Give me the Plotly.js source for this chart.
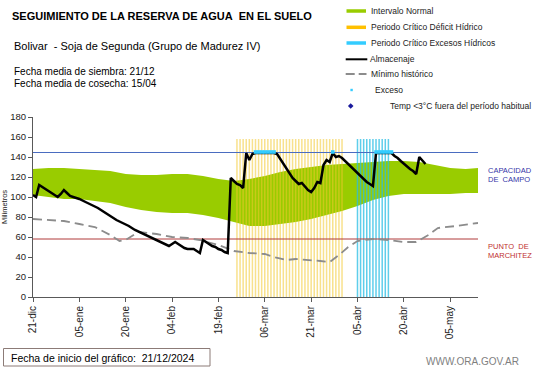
<!DOCTYPE html>
<html>
<head>
<meta charset="utf-8">
<script src="https://cdn.plot.ly/plotly-3.0.1.min.js"></script>
<style>html,body{margin:0;padding:0;background:#fff}#chart{width:541px;height:368px}</style>
</head>
<body>
<div id="chart"></div>
<script>
// ---------- DATA (days since 21-dic-2024) ----------
const tickDays = [0, 15, 30, 45, 60, 75, 90, 105, 120, 135];
const tickLabels = ['21-dic', '05-ene', '20-ene', '04-feb', '19-feb', '06-mar', '21-mar', '05-abr', '20-abr', '05-may'];

const bandDays = [0, 5, 10, 15, 20, 25, 30, 35, 40, 45, 50, 55, 60, 65, 70, 75, 80, 85, 90, 95, 100, 105, 110, 115, 120, 125, 130, 135, 140, 144];
const bandLow  = [102, 100, 98, 98, 96, 94, 90, 87, 85, 84, 84, 82, 79, 75, 71, 71, 73, 75, 78, 82, 86, 91, 97, 101, 103, 103, 103, 103, 104, 104];
const bandHigh = [128, 129, 129, 128, 127, 126, 123, 122, 122, 123, 123, 121, 118, 116, 118, 121, 125, 128, 130, 132, 133, 134, 135, 136, 136, 135, 132, 129, 128, 129];

const minDays = [0, 5, 10, 15, 20, 25, 28, 30, 34, 40, 45, 50, 54, 60, 65, 70, 75, 78, 82, 85, 90, 93, 96, 99, 102, 105, 110, 115, 120, 124, 128, 131, 137, 144];
const minVals = [78, 77, 76, 73, 70, 62, 56, 57, 65, 63, 60, 59, 57, 52, 46, 44, 43, 40, 37, 38, 37, 36, 35, 42, 50, 56, 58, 57, 55, 55, 62, 69, 71, 74];

const almDays = [0,1,2,3,4,5,6,7,8,9,10,11,12,13,14,15,
  17,19,21,23,25,27,29,31,33,35,37,39,41,43,
  44,45,46,47,48,49,50,51,52,53,54,55,56,57,58,59,60,61,62,63,
  64,65,66,67,68,69,70,71,72,73,74,75,76,77,78,79,80,81,82,83,
  84,85,86,87,88,89,90,91,92,93,94,95,96,97,98,99,100,101,102,103,
  104,105,106,107,108,109,110,111,112,113,114,115,116,117,118,119,120,121,122,123,
  124,125,126,127];
const almVals = [102,100,112,110,108,106,104,102,100,103,107,104,101,100,99,98,
  95,92,89,85,81,77,74,71,67,64,61,58,55,52,
  51,53,55,53,51,49,48,48,48,46,44,57,55,53,51,50,48,47,45,44,
  119,116,113,112,109,144,137,143,144,144,144,144,144,144,144,143,138,133,128,123,
  119,116,113,114,110,107,105,109,115,114,132,137,135,144,140,141,139,136,133,130,
  126,123,120,117,115,113,111,144,144,144,144,144,144,141,139,136,133,131,128,126,
  123,140,136,133];

const excDays = [72, 73, 74, 75, 76, 77, 78, 97, 111, 112, 113, 114, 115, 116];
const excVals = [145, 145, 145, 145, 145, 145, 145, 145, 145, 145, 145, 145, 145, 145];

const deficitDays = [66,67,68,69,70,71,72,73,74,75,76,77,78,79,80,81,82,83,84,85,86,87,88,89,90,91,92,93,94,95,96,97,98,99,100];
const excesoPerDays = [105,106,107,108,109,110,111,112,113,114,115];
const periodTop = 158;

const capacidadCampo = 144.5;
const puntoMarchitez = 58;

// ---------- STYLE / GEOMETRY ----------
const W = 541, H = 368;
const M = {l: 33, r: 63, t: 117, b: 71};
const PW = W - M.l - M.r, PH = H - M.t - M.b;
const fx = px => (px - M.l) / PW;
const fy = py => (H - M.b - py) / PH;
const FONT = 'Liberation Sans, Arial, sans-serif';
const GREEN = '#99CC00', EXC = '#33CCFF';

function stripes(days, top) {
  const x = [], y = [];
  days.forEach(d => { x.push(d, d, null); y.push(0, top, null); });
  return {x, y};
}
const ys = stripes(deficitDays, periodTop);
const cs = stripes(excesoPerDays, periodTop);
const xEnd = bandDays[bandDays.length - 1];

const traces = [
  {x: bandDays, y: bandLow, mode: 'lines', line: {width: 0, color: GREEN}, hoverinfo: 'skip', showlegend: false},
  {x: bandDays, y: bandHigh, mode: 'lines', fill: 'tonexty', fillcolor: GREEN, line: {width: 0, color: GREEN}, name: 'Intervalo Normal', showlegend: false},
  {x: ys.x, y: ys.y, mode: 'lines', line: {color: 'rgba(242,200,45,0.55)', width: 1.5}, name: 'Periodo Crítico Déficit Hídrico', showlegend: false},
  {x: cs.x, y: cs.y, mode: 'lines', line: {color: 'rgba(40,190,228,0.75)', width: 1.5}, name: 'Periodo Crítico Excesos Hídricos', showlegend: false},
  {x: [0, xEnd], y: [capacidadCampo, capacidadCampo], mode: 'lines', line: {color: '#4A6CC0', width: 1}, showlegend: false},
  {x: [0, xEnd], y: [puntoMarchitez, puntoMarchitez], mode: 'lines', line: {color: '#B03A3A', width: 1}, showlegend: false},
  {x: minDays, y: minVals, mode: 'lines', line: {color: '#8C8C8C', width: 1.8, dash: '9px,5px'}, name: 'Mínimo histórico', showlegend: false},
  {x: almDays, y: almVals, mode: 'lines', line: {color: '#000000', width: 2.5}, name: 'Almacenaje', showlegend: false},
  {x: excDays, y: excVals, mode: 'markers', marker: {color: EXC, size: 3.6, symbol: 'square', line: {width: 0}}, name: 'Exceso', showlegend: false}
];

// ---------- custom legend ----------
const legRows = [
  {y: 11,   text: 'Intervalo Normal', tx: 369.3},
  {y: 27.3, text: 'Periodo Crítico Déficit Hídrico', tx: 369.3},
  {y: 43,   text: 'Periodo Crítico Excesos Hídricos', tx: 369.3},
  {y: 59.3, text: 'Almacenaje', tx: 368.3},
  {y: 74,   text: 'Mínimo histórico', tx: 369.3},
  {y: 90,   text: 'Exceso', tx: 373},
  {y: 106,  text: 'Temp <3°C fuera del período habitual', tx: 388}
];
const shapes = [
  {type: 'line', xref: 'paper', yref: 'paper', x0: fx(346.5), x1: fx(366), y0: fy(11), y1: fy(11), line: {color: GREEN, width: 3.5}},
  {type: 'line', xref: 'paper', yref: 'paper', x0: fx(346.5), x1: fx(366), y0: fy(27.3), y1: fy(27.3), line: {color: '#FFC000', width: 3.5}},
  {type: 'line', xref: 'paper', yref: 'paper', x0: fx(346.5), x1: fx(366), y0: fy(43), y1: fy(43), line: {color: EXC, width: 3.5}},
  {type: 'line', xref: 'paper', yref: 'paper', x0: fx(345.7), x1: fx(367.3), y0: fy(59.3), y1: fy(59.3), line: {color: '#000', width: 2}},
  {type: 'line', xref: 'paper', yref: 'paper', x0: fx(345.7), x1: fx(366.5), y0: fy(74), y1: fy(74), line: {color: '#8C8C8C', width: 1.8, dash: '9px,4px'}},
  {type: 'rect', xref: 'paper', yref: 'paper', x0: fx(350.4), x1: fx(352.8), y0: fy(91.2), y1: fy(88.8), fillcolor: EXC, line: {width: 0}},
  {type: 'path', xref: 'paper', yref: 'paper',
   path: `M ${fx(350.7)} ${fy(103.2)} L ${fx(353.5)} ${fy(106)} L ${fx(350.7)} ${fy(108.8)} L ${fx(347.9)} ${fy(106)} Z`,
   fillcolor: '#1A1A9C', line: {width: 0}},
  {type: 'rect', xref: 'paper', yref: 'paper', x0: fx(3.5), x1: fx(210), y0: fy(366), y1: fy(348.5), fillcolor: 'rgba(0,0,0,0)', line: {color: '#8C7B77', width: 1}}
];

const ann = (px, py, text, size, color, extra) => Object.assign({
  xref: 'paper', yref: 'paper', x: fx(px), y: fy(py), text: text, showarrow: false,
  xanchor: 'left', yanchor: 'middle', align: 'left',
  font: {family: FONT, size: size, color: color}
}, extra || {});

const annotations = [
  ann(12, 45.5, 'Bolivar\u00A0 - Soja de Segunda (Grupo de Madurez IV)', 11, '#000'),
  ann(12, 71.5, 'Fecha media de siembra: 21/12', 10, '#000'),
  ann(12, 83, 'Fecha media de cosecha: 15/04', 10, '#000'),
  ann(486, 170, 'CAPACIDAD', 7.5, '#3535A8'),
  ann(486, 179, 'DE\u00A0 CAMPO', 7.5, '#3535A8'),
  ann(486, 246.7, 'PUNTO\u00A0 DE', 7.5, '#C03030'),
  ann(486, 255.7, 'MARCHITEZ', 7.5, '#C03030'),
  ann(9, 357.5, 'Fecha de inicio del gráfico:\u00A0 21/12/2024', 10.5, '#000'),
  ann(424, 361, 'WWW.ORA.GOV.AR', 10, '#7F7F7F')
].concat(legRows.map(r => ann(r.tx, r.y, r.text, 8.5, '#222')));

const layout = {
  width: W, height: H, margin: M,
  paper_bgcolor: '#fff', plot_bgcolor: '#fff',
  showlegend: false,
  title: {text: '<b>SEGUIMIENTO DE LA RESERVA DE AGUA\u00A0 EN EL SUELO</b>', xref: 'container', yref: 'container',
          x: 12 / W, xanchor: 'left', y: 1 - 16.5 / H, yanchor: 'middle', font: {family: FONT, size: 11, color: '#000'}},
  xaxis: {range: [0, xEnd], tickmode: 'array', tickvals: tickDays, ticktext: tickLabels, tickangle: -90,
          showline: true, linecolor: '#595959', linewidth: 1, ticks: 'outside', ticklen: 4, tickcolor: '#595959',
          showgrid: false, zeroline: false, tickfont: {family: FONT, size: 10, color: '#222'}, fixedrange: true},
  yaxis: {range: [0, 180], tickmode: 'linear', tick0: 0, dtick: 20,
          showline: true, linecolor: '#595959', linewidth: 1, ticks: 'outside', ticklen: 4, tickcolor: '#595959',
          showgrid: false, zeroline: false, tickfont: {family: FONT, size: 9.5, color: '#222'},
          title: {text: 'Milimetros', font: {family: FONT, size: 7.5, color: '#222'}, standoff: 1}, fixedrange: true},
  shapes: shapes,
  annotations: annotations
};

Plotly.newPlot('chart', traces, layout, {staticPlot: true, displayModeBar: false});
</script>
</body>
</html>
